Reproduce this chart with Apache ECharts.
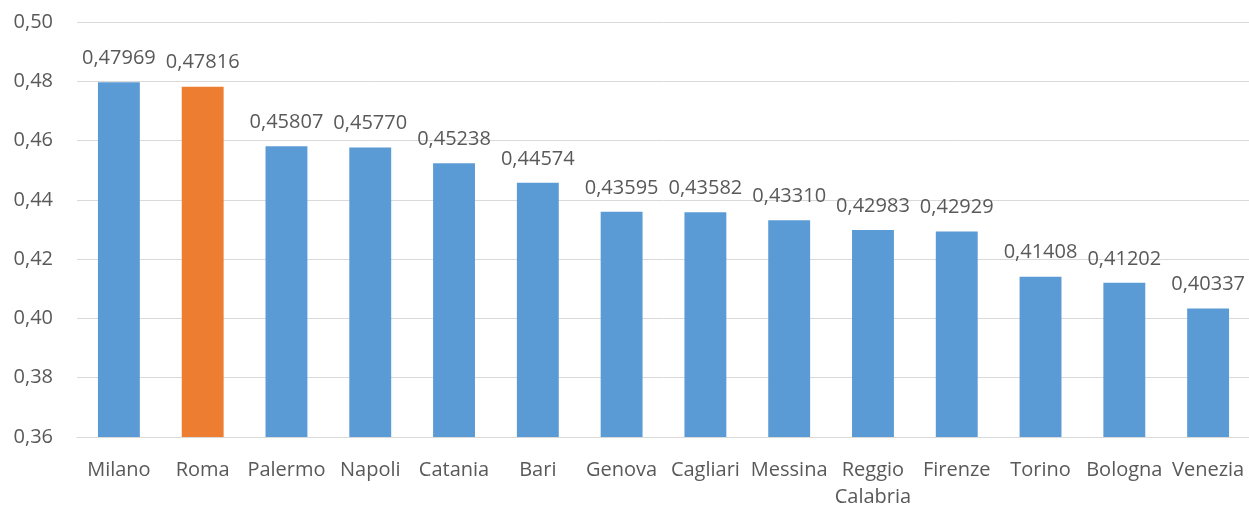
<!DOCTYPE html>
<html lang="it">

<head>
    <meta charset="utf-8" />
    <title>Indice per città</title>
    <script src="https://cdn.jsdelivr.net/npm/echarts@6.0.0/dist/echarts.min.js"></script>
</head>

<body style="margin:0;">
    <div id="main" style="width: 1249px;height:506px;"></div>
    <script type="text/javascript">

        // categories and values
        var cities = ['Milano', 'Roma', 'Palermo', 'Napoli', 'Catania', 'Bari', 'Genova', 'Cagliari',
            'Messina', 'Reggio\nCalabria', 'Firenze', 'Torino', 'Bologna', 'Venezia'];
        var values = [0.47969, 0.47816, 0.45807, 0.45770, 0.45238, 0.44574, 0.43595, 0.43582,
            0.43310, 0.42983, 0.42929, 0.41408, 0.41202, 0.40337];
        var highlighted = 'Roma';

        var blue = '#5B9BD5';
        var orange = '#ED7D31';
        var textColor = '#595959';
        var font = '"Open Sans", sans-serif';

        function comma(v, digits) {
            return v.toFixed(digits).replace('.', ',');
        }

        var myChart = echarts.init(document.getElementById('main'));

        option = {
            animation: false,
            grid: { left: 77, right: -1, top: 22, bottom: 69, outerBoundsMode: 'none' },
            xAxis: {
                type: 'category',
                data: cities,
                axisLine: { lineStyle: { color: '#D9D9D9', width: 1 } },
                axisTick: { show: false },
                axisLabel: {
                    color: textColor, fontFamily: font, fontSize: 20,
                    margin: 20, lineHeight: 27, interval: 0
                }
            },
            yAxis: {
                type: 'value',
                min: 0.36,
                max: 0.50,
                interval: 0.02,
                axisLine: { show: false },
                axisTick: { show: false },
                splitLine: { lineStyle: { color: '#D9D9D9', width: 1 } },
                axisLabel: {
                    color: textColor, fontFamily: font, fontSize: 20, margin: 24,
                    formatter: function (v) { return comma(v, 2); }
                }
            },
            series: [{
                type: 'bar',
                barWidth: '50%',
                data: values.map(function (v, i) {
                    return {
                        value: v,
                        itemStyle: { color: cities[i] === highlighted ? orange : blue }
                    };
                }),
                label: {
                    show: true,
                    position: 'top',
                    distance: 14,
                    color: textColor,
                    fontFamily: font,
                    fontSize: 20,
                    formatter: function (p) { return comma(p.value, 5); }
                }
            }]
        };

        myChart.setOption(option);

    </script>
</body>

</html>
